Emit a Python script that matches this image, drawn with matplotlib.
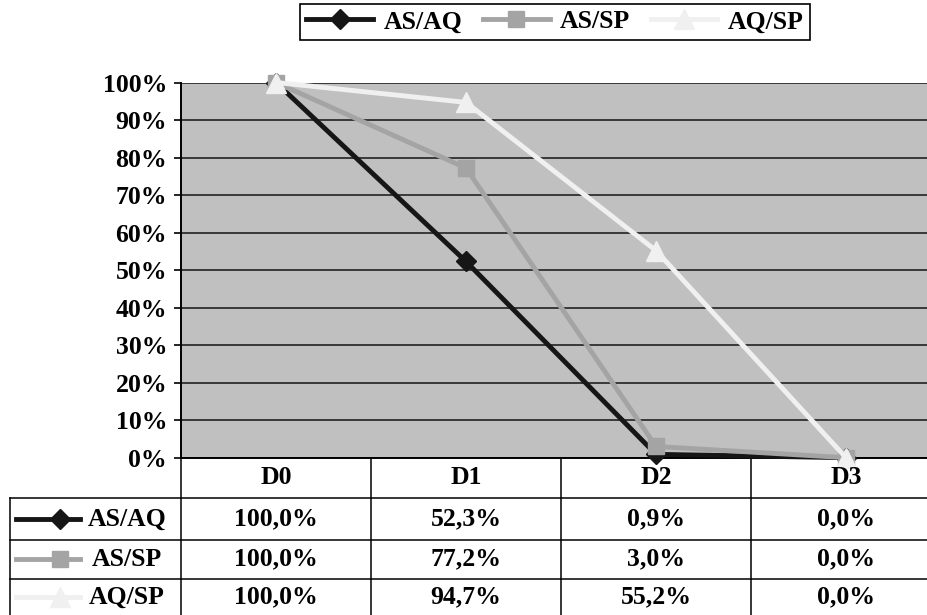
import numpy as np
import matplotlib
matplotlib.use('Agg')
import matplotlib.pyplot as plt
from matplotlib.lines import Line2D
from matplotlib.transforms import blended_transform_factory

plt.rcParams['font.family'] = ['Liberation Serif', 'DejaVu Serif']
plt.rcParams['font.weight'] = 'bold'

# data
categories = ['D0', 'D1', 'D2', 'D3']
series_names = ['AS/AQ', 'AS/SP', 'AQ/SP']
as_aq = [100.0, 52.3, 0.9, 0.0]
as_sp = [100.0, 77.2, 3.0, 0.0]
aq_sp = [100.0, 94.7, 55.2, 0.0]
y_ticks = [0, 10, 20, 30, 40, 50, 60, 70, 80, 90, 100]

# styles
colors = ['#161616', '#a4a4a4', '#f0f0f0']
markers = ['D', 's', '^']
msizes = [10, 11, 14]
fs = 18.5

W, H = 927, 615
fig = plt.figure(figsize=(W / 100, H / 100), dpi=100)

# pixel layout of the plot area (x0 = left edge, step = one category)
y0, y1 = 457.7, 82.5
x0, step = 181, 190
ax = fig.add_axes([x0 / W, 1 - y0 / H, 4 * step / W, (y0 - y1) / H])
ax.set_facecolor('#c0c0c0')
ax.set_xlim(-0.5, 3.5)
ax.set_ylim(0, 100)

x = np.arange(len(categories))
lines = []
for vals, c, m, ms in zip([as_aq, as_sp, aq_sp], colors, markers, msizes):
    ln, = ax.plot(x, vals, color=c, lw=3.5, marker=m, ms=ms, mec=c, mfc=c,
                  clip_on=False, zorder=3)
    lines.append(ln)

ax.set_yticks(y_ticks)
ax.set_yticklabels([f'{t}%' for t in y_ticks], fontsize=fs, fontweight='bold')
ax.tick_params(axis='y', length=5, width=1.2, pad=5, direction='out')
ax.set_xticks([])
ax.yaxis.grid(True, color='#222222', lw=1.2)
ax.set_axisbelow(True)
for s in ['top', 'right']:
    ax.spines[s].set_visible(False)
for s in ['left', 'bottom']:
    ax.spines[s].set_color('black')
    ax.spines[s].set_linewidth(1.4)

# data table below the plot
trans = blended_transform_factory(ax.transData, ax.transAxes)
fy = lambda py: (y0 - py) / (y0 - y1)
fx = lambda px: -0.5 + (px - x0) / step

row_lines = [498, 540, 579]
for py in row_lines:
    ax.add_line(Line2D([fx(10), 3.5], [fy(py), fy(py)], transform=trans,
                       color='black', lw=1.1, clip_on=False))
for i in range(len(categories)):
    ax.add_line(Line2D([i - 0.5, i - 0.5], [0, fy(H)], transform=trans,
                       color='black', lw=1.1, clip_on=False))
ax.add_line(Line2D([fx(10), fx(10)], [fy(498), fy(H)], transform=trans,
                   color='black', lw=1.1, clip_on=False))

for i, cat in enumerate(categories):
    ax.text(i, fy(478), cat, transform=trans, ha='center', va='center',
            fontsize=fs, fontweight='bold')

row_y = [519, 559, 597]
for vals, name, c, m, ms, py in zip([as_aq, as_sp, aq_sp], series_names,
                                     colors, markers, msizes, row_y):
    for i, v in enumerate(vals):
        ax.text(i, fy(py), f'{v:.1f}%'.replace('.', ','), transform=trans,
                ha='center', va='center', fontsize=fs, fontweight='bold')
    ax.add_line(Line2D([fx(16), fx(80)], [fy(py), fy(py)], transform=trans,
                       color=c, lw=3.5, clip_on=False))
    ax.add_line(Line2D([fx(60)], [fy(py)], transform=trans, color=c,
                       marker=m, ms=ms, mec=c, mfc=c, clip_on=False))
    ax.text(fx(127), fy(py), name, transform=trans, ha='center', va='center',
            fontsize=fs, fontweight='bold')

leg = fig.legend(lines, series_names, loc='upper center',
                 bbox_to_anchor=(555 / W, 1 - 4 / H), ncol=3, fontsize=fs,
                 frameon=True, fancybox=False, edgecolor='black', framealpha=1,
                 handlelength=2.6, columnspacing=0.8, handletextpad=0.4,
                 borderpad=0.25, borderaxespad=0)
leg.get_frame().set_linewidth(1.2)

fig.savefig('out.png', dpi=100)
